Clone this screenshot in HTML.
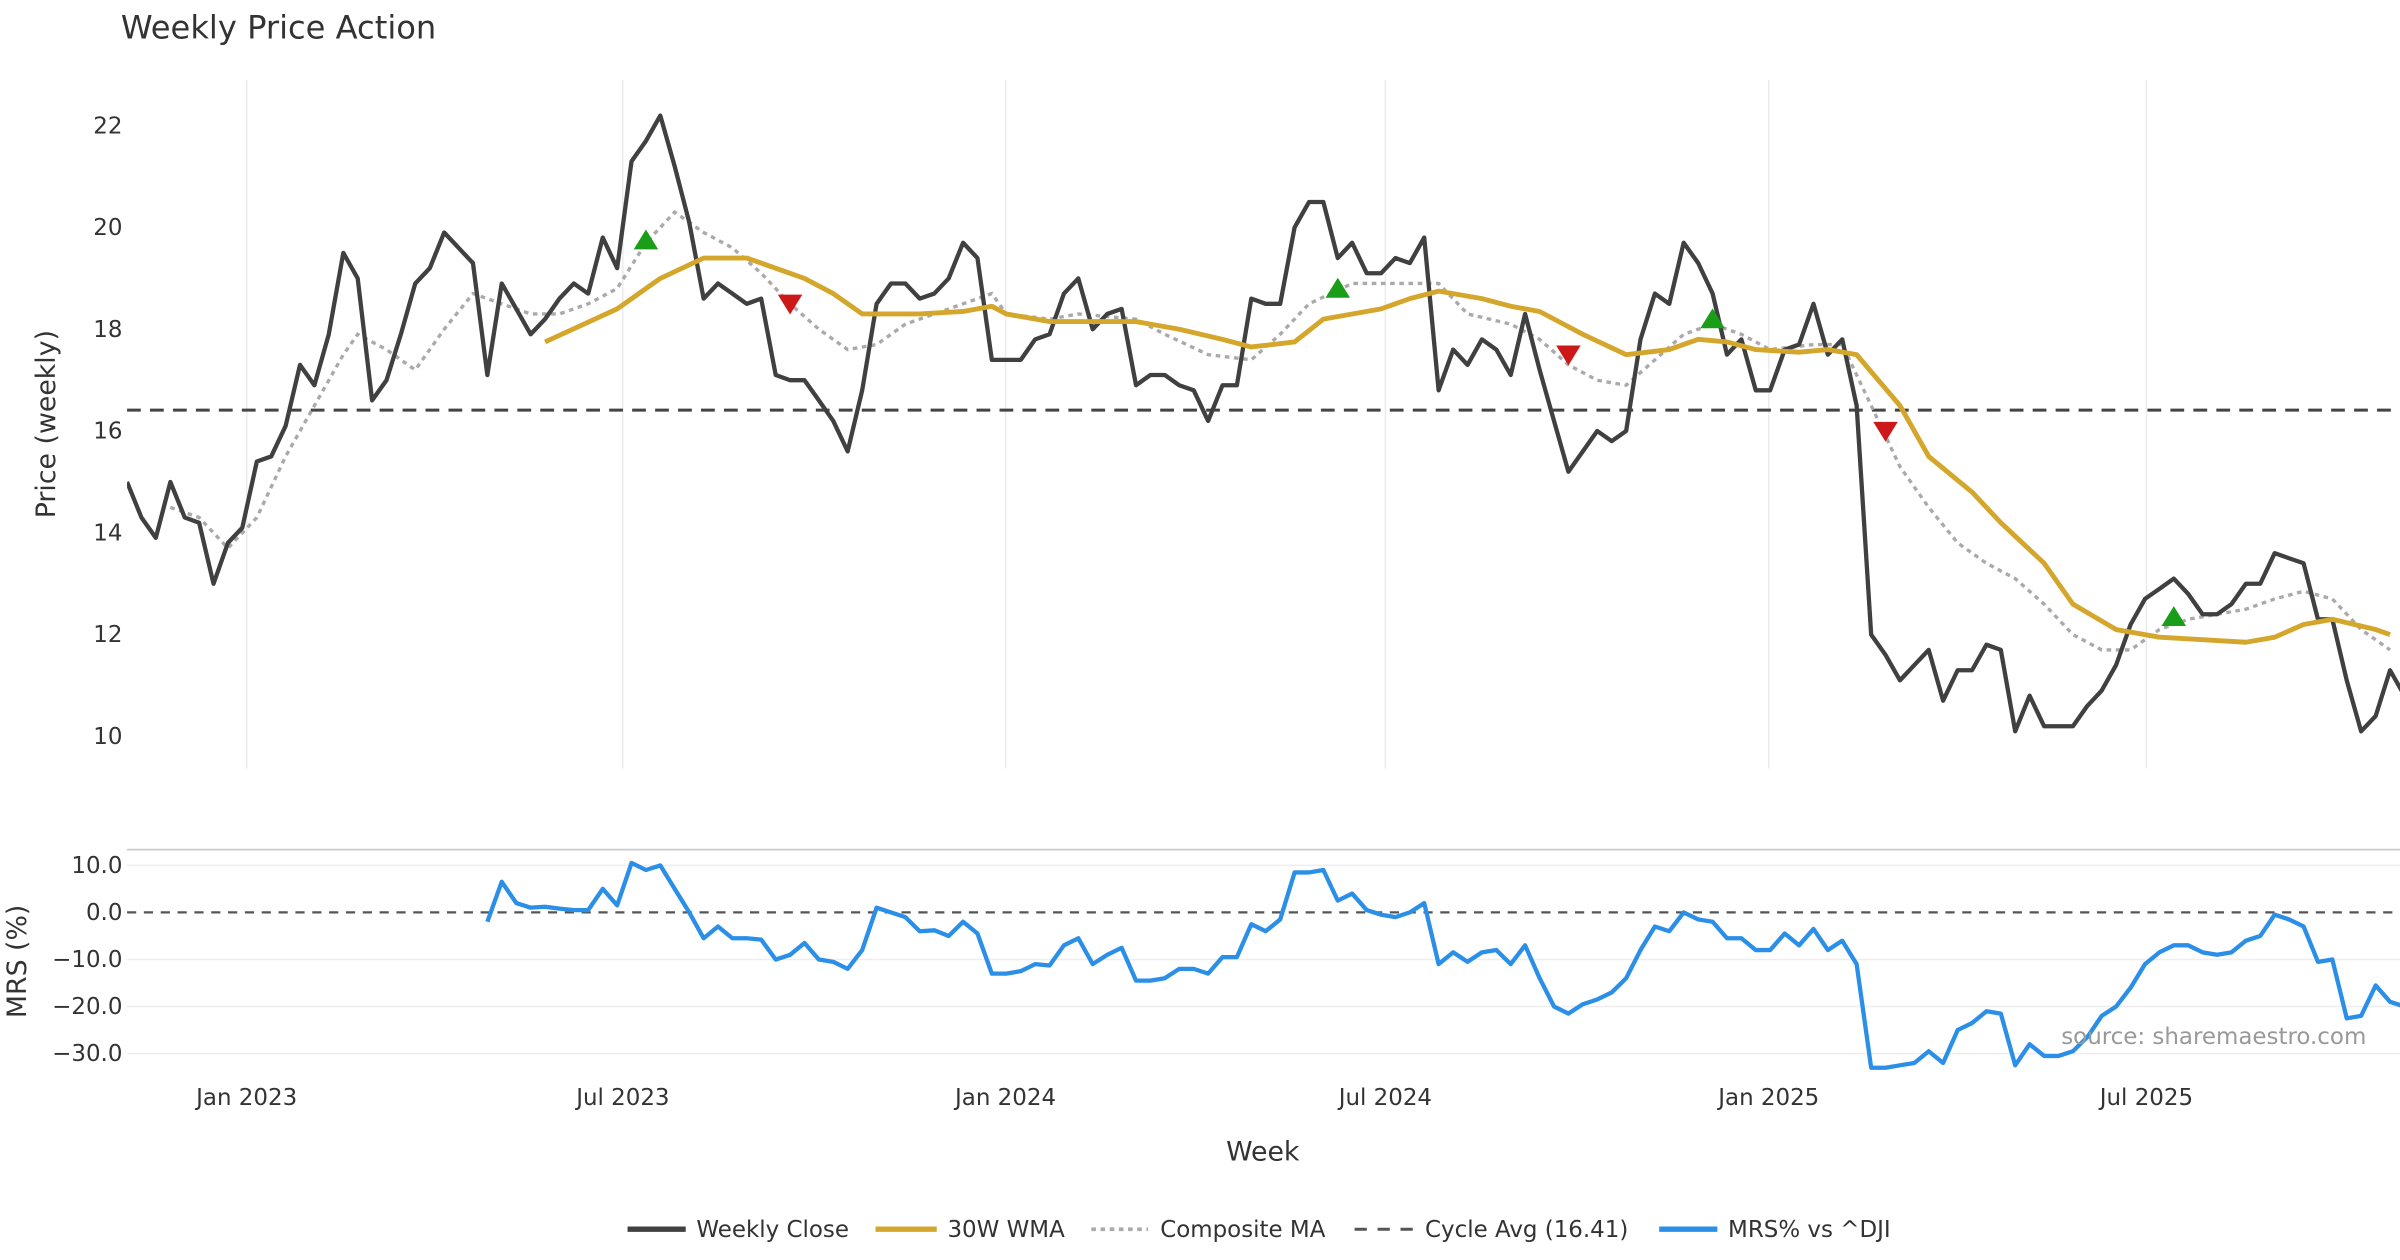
<!DOCTYPE html>
<html><head><meta charset="utf-8"><style>
html,body{margin:0;padding:0;background:#fff;}
svg{display:block;font-family:"DejaVu Sans","Liberation Sans",sans-serif;}
</style></head><body>
<svg id="chart" width="2400" height="1260" viewBox="0 0 1568 823" xmlns="http://www.w3.org/2000/svg">
<defs><clipPath id="plotclip"><rect x="83" y="40" width="1485" height="680"/></clipPath></defs>
<rect width="1568" height="823" fill="#fff"/>
<text x="79" y="25" font-size="21" fill="#333">Weekly Price Action</text>
<g id="grid"></g>
<g id="price" clip-path="url(#plotclip)"></g>
<g id="mrs" clip-path="url(#plotclip)"></g>
<text transform="translate(36,277) rotate(-90)" text-anchor="middle" font-size="17.5" fill="#333">Price (weekly)</text>
<text transform="translate(17,628) rotate(-90)" text-anchor="middle" font-size="17.5" fill="#333">MRS (%)</text>
<text x="825" y="758" text-anchor="middle" font-size="17.5" fill="#333">Week</text>
<text x="1546" y="682" text-anchor="end" font-size="15" fill="#999">source: sharemaestro.com</text>
<g font-size="15" fill="#333">
  <line x1="410" y1="803" x2="448" y2="803" stroke="#404040" stroke-width="3.5"/><text x="455" y="808">Weekly Close</text>
  <line x1="572" y1="803" x2="612" y2="803" stroke="#d4a72c" stroke-width="3.5"/><text x="619" y="808">30W WMA</text>
  <line x1="713" y1="803" x2="750" y2="803" stroke="#aaa" stroke-width="2.5" stroke-dasharray="3,3"/><text x="758" y="808">Composite MA</text>
  <line x1="885" y1="803" x2="923" y2="803" stroke="#555" stroke-width="2" stroke-dasharray="8,7"/><text x="931" y="808">Cycle Avg (16.41)</text>
  <line x1="1084" y1="803" x2="1122" y2="803" stroke="#2b8fe8" stroke-width="3.5"/><text x="1129" y="808">MRS% vs ^DJI</text>
</g>
</svg>
<script>
const closeValues=[15.0,14.3,13.9,15.0,14.3,14.2,13.0,13.8,14.1,15.4,15.5,16.1,17.3,16.9,17.9,19.5,19.0,16.6,17.0,17.9,18.9,19.2,19.9,19.6,19.3,17.1,18.9,18.4,17.9,18.2,18.6,18.9,18.7,19.8,19.2,21.3,21.7,22.2,21.2,20.1,18.6,18.9,18.7,18.5,18.6,17.1,17.0,17.0,16.6,16.2,15.6,16.8,18.5,18.9,18.9,18.6,18.7,19.0,19.7,19.4,17.4,17.4,17.4,17.8,17.9,18.7,19.0,18.0,18.3,18.4,16.9,17.1,17.1,16.9,16.8,16.2,16.9,16.9,18.6,18.5,18.5,20.0,20.5,20.5,19.4,19.7,19.1,19.1,19.4,19.3,19.8,16.8,17.6,17.3,17.8,17.6,17.1,18.3,17.2,16.2,15.2,15.6,16.0,15.8,16.0,17.8,18.7,18.5,19.7,19.3,18.7,17.5,17.8,16.8,16.8,17.6,17.7,18.5,17.5,17.8,16.5,12.0,11.6,11.1,11.4,11.7,10.7,11.3,11.3,11.8,11.7,10.1,10.8,10.2,10.2,10.2,10.6,10.9,11.4,12.2,12.7,12.9,13.1,12.8,12.4,12.4,12.6,13.0,13.0,13.6,13.5,13.4,12.3,12.3,11.1,10.1,10.4,11.3,10.8];
const wmaWeeks=[29,34,37,40,43,44,47,49,51,55,58,60,61,64,70,73,76,78,81,83,87,89,91,94,96,98,101,104,107,109,111,113,116,118,120,123,125,128,130,133,135,138,141,144,147,149,151,153,156,157];
const wmaValues=[17.75,18.4,19.0,19.4,19.4,19.3,19.0,18.7,18.3,18.3,18.35,18.45,18.3,18.15,18.15,18.0,17.8,17.65,17.75,18.2,18.4,18.6,18.75,18.6,18.45,18.35,17.9,17.5,17.6,17.8,17.75,17.6,17.55,17.6,17.5,16.5,15.5,14.8,14.2,13.4,12.6,12.1,11.95,11.9,11.85,11.95,12.2,12.3,12.1,12.0];
const compWeeks=[3,5,7,9,11,13,15,16,18,20,22,24,26,28,30,32,34,36,38,40,42,44,46,48,50,52,54,56,58,60,61,64,66,70,72,75,78,80,82,85,87,89,91,93,96,98,100,102,104,106,108,110,112,114,117,119,121,123,125,127,129,131,133,135,137,139,141,143,145,147,149,151,153,155,157];
const compValues=[14.5,14.3,13.7,14.3,15.5,16.5,17.5,17.9,17.6,17.2,18.0,18.7,18.5,18.3,18.3,18.5,18.8,19.7,20.3,19.9,19.6,19.1,18.5,18.0,17.6,17.7,18.1,18.3,18.5,18.7,18.3,18.2,18.3,18.2,17.9,17.5,17.4,17.9,18.5,18.9,18.9,18.9,18.9,18.3,18.1,17.8,17.3,17.0,16.9,17.4,17.9,18.1,17.9,17.6,17.7,17.7,16.5,15.3,14.5,13.8,13.4,13.1,12.6,12.0,11.7,11.7,12.1,12.3,12.4,12.5,12.7,12.85,12.7,12.1,11.7];
const buyWeeks=[36,84,110,142];
const buyValues=[19.75,18.8,18.2,12.35];
const sellWeeks=[46,100,122];
const sellValues=[18.5,17.5,16.0];
const cycleAvg=16.41;
const mrsStart=25;
const mrsValues=[-2,6.5,2,1,1.2,0.8,0.5,0.5,5,1.5,10.5,9,10,5,0,-5.5,-3,-5.5,-5.5,-5.8,-10,-9,-6.5,-10,-10.5,-12,-8,1,0,-1,-4,-3.8,-5,-2,-4.5,-13,-13,-12.5,-11,-11.3,-7,-5.5,-11,-9,-7.5,-14.5,-14.5,-14,-12,-12,-13,-9.5,-9.5,-2.5,-4,-1.5,8.5,8.5,9,2.5,4,0.5,-0.5,-1,0,2,-11,-8.5,-10.5,-8.5,-8,-11,-7,-14,-20,-21.5,-19.5,-18.5,-17,-14,-8,-3,-4,0,-1.5,-2,-5.5,-5.5,-8,-8,-4.5,-7,-3.5,-8,-6,-11,-33,-33,-32.5,-32,-29.5,-32,-25,-23.5,-21,-21.5,-32.5,-28,-30.5,-30.5,-29.5,-26.5,-22,-20,-16,-11,-8.5,-7,-7,-8.5,-9,-8.5,-6,-5,-0.5,-1.5,-3,-10.5,-10,-22.5,-22,-15.5,-19,-20];
const xTickLabels=["Jan 2023","Jul 2023","Jan 2024","Jul 2024","Jan 2025","Jul 2025"];
const xTickWeeks=[8.3,34.4,60.95,87.3,113.9,140.1];
const priceTicks=[10,12,14,16,18,20,22];
const mrsTicks=[10,0,-10,-20,-30];

const NS="http://www.w3.org/2000/svg";
const X0=83,STEP=9.417;
const xs=w=>X0+w*STEP;
const yp=v=>481-(v-10)*33.25;
const ym=v=>596-v*3.075;
function mk(tag,attrs,parent){const e=document.createElementNS(NS,tag);for(const k in attrs)e.setAttribute(k,attrs[k]);parent.appendChild(e);return e;}
const grid=document.getElementById('grid'),price=document.getElementById('price'),mrs=document.getElementById('mrs');

xTickWeeks.forEach((w,i)=>{
  const l=mk('line',{x1:xs(w),x2:xs(w),y1:52,y2:502,stroke:'#ececec','stroke-width':1},grid);
  
  
  const t=mk('text',{x:xs(w),y:722,'text-anchor':'middle','font-size':15,fill:'#333'},grid);
  t.textContent=xTickLabels[i];
  
  
});
priceTicks.forEach(v=>{
  const t=mk('text',{x:80,y:yp(v)+5,'text-anchor':'end','font-size':15,fill:'#333'},grid);
  t.textContent=v;
  
  
});
const border=mk('line',{x1:83,x2:1568,y1:555,y2:555,stroke:'#ccc','stroke-width':1.2},grid);


mrsTicks.forEach(v=>{
  if(v!==0){const l=mk('line',{x1:83,x2:1568,y1:ym(v),y2:ym(v),stroke:'#eee','stroke-width':1},grid);
  
  }
  const t=mk('text',{x:80,y:ym(v)+5,'text-anchor':'end','font-size':15,fill:'#333'},grid);
  t.textContent=(v<0?'\u2212'+Math.abs(v).toFixed(1):v.toFixed(1));
  
  
});
const zl=mk('line',{x1:83,x2:1568,y1:ym(0),y2:ym(0),stroke:'#555','stroke-width':1.5,'stroke-dasharray':'6,5'},mrs);



function path(ws,vs,yf){return ws.map((w,i)=>(i?'L':'M')+xs(w).toFixed(1)+','+yf(vs[i]).toFixed(1)).join('');}
const ca=mk('line',{x1:83,x2:1568,y1:yp(cycleAvg),y2:yp(cycleAvg),stroke:'#444','stroke-width':2,'stroke-dasharray':'9,6'},price);


const cp=mk('path',{d:path(compWeeks,compValues,yp),fill:'none',stroke:'#aaa','stroke-width':2.2,'stroke-dasharray':'3,3'},price);


const cl=mk('path',{d:path(closeValues.map((_,i)=>i),closeValues,yp),fill:'none',stroke:'#404040','stroke-width':2.8,'stroke-linejoin':'round'},price);


const wl=mk('path',{d:path(wmaWeeks,wmaValues,yp),fill:'none',stroke:'#d4a72c','stroke-width':3.2,'stroke-linejoin':'round'},price);


buyWeeks.forEach((w,i)=>{const x=xs(w),y=yp(buyValues[i]);
  const p=mk('polygon',{points:`${x-8},${y+6} ${x+8},${y+6} ${x},${y-7}`,fill:'#1a9e1a'},price);
  
  });
sellWeeks.forEach((w,i)=>{const x=xs(w),y=yp(sellValues[i]);
  const p=mk('polygon',{points:`${x-8},${y-6} ${x+8},${y-6} ${x},${y+7}`,fill:'#cc1818'},price);
  
  });
const ml=mk('path',{d:path(mrsValues.map((_,i)=>i+mrsStart),mrsValues,ym),fill:'none',stroke:'#2b8fe8','stroke-width':2.8,'stroke-linejoin':'round'},mrs);


</script>
</body></html>
